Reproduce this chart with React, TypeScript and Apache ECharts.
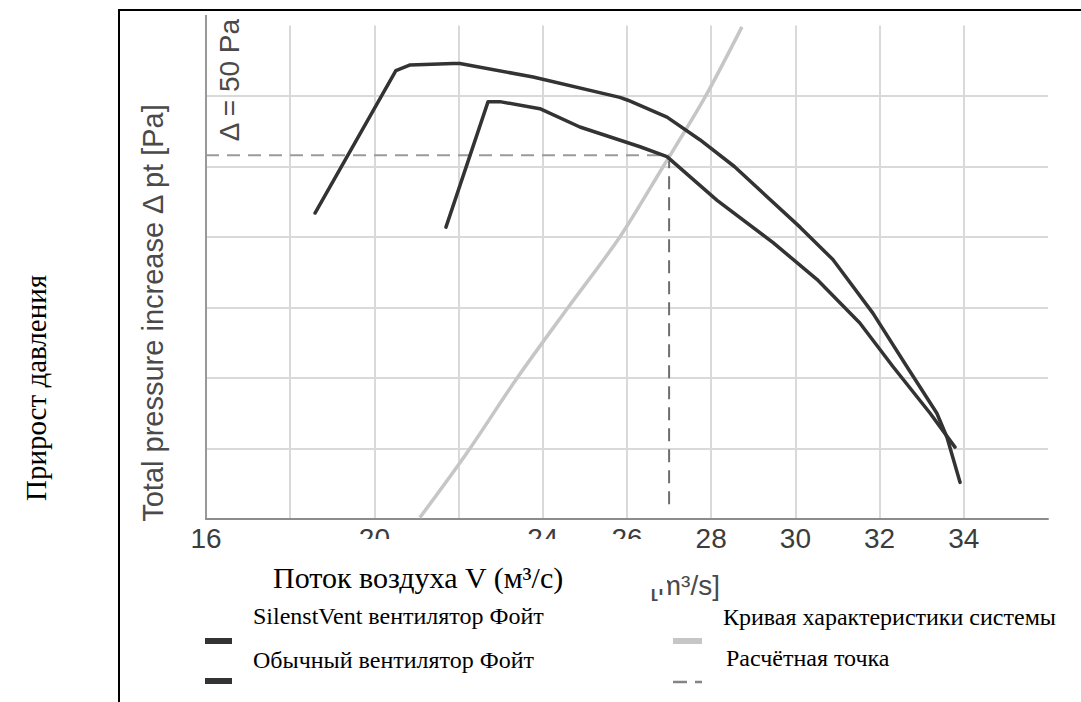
import React, { useEffect, useRef } from "react";
import * as echarts from "echarts";

// ---- data (x: volume flow, m³/s; y: total pressure increase, Pa) ----
const silentVentX = [18.59, 20.51, 20.85, 21.87, 22.03, 23.77, 25.83, 26.02, 26.95, 27.73, 28.55, 30.11, 30.89, 31.84, 32.65, 33.36, 33.6, 33.91];
const silentVentY = [217, 318, 322, 323, 323, 313.5, 299, 297, 285, 269, 250, 207, 184, 146, 108, 75, 58, 26];

const conventionalX = [21.7, 22.7, 22.98, 23.93, 24.88, 26.31, 26.95, 28.14, 29.47, 30.51, 31.53, 32.32, 33.2, 33.79];
const conventionalY = [207, 296, 296, 291, 278, 264, 257, 226, 196, 170, 139, 108, 75, 51];

const systemX = [21.08, 22.2, 23.39, 24.6, 25.83, 26.86, 27.85, 28.73];
const systemY = [1, 47, 100, 150, 200, 250, 299, 349];

const designPointX = 27;
const designPointY = 258;
const designLineBottomY = 8;

const xTickLabels = [16, 20, 24, 26, 28, 30, 32, 34];

const seriesNames = [
  "SilenstVent вентилятор Фойт",
  "Обычный вентилятор Фойт",
  "Кривая характеристики системы",
  "Расчётная точка",
];

const pairs = (xs: number[], ys: number[]) => xs.map((x, i) => [x, ys[i]]);

const SERIF = "'Liberation Serif', 'Times New Roman', serif";
const SANS = "'Liberation Sans', Arial, Helvetica, sans-serif";

export default function App() {
  const ref = useRef<HTMLDivElement>(null);

  useEffect(() => {
    if (!ref.current) return;
    const chart = echarts.init(ref.current, undefined, { renderer: "svg" });
    const dark = "#333333";
    const grey = "#c6c6c6";
    const dashLight = "#9a9a9a";
    const dashDark = "#6e6e6e";

    const option: any = {
      animation: false,
      grid: { left: 206, right: 33, top: 25.5, bottom: 183 },
      xAxis: {
        type: "value",
        min: 16,
        max: 36,
        interval: 2,
        axisLine: { show: true, lineStyle: { color: "#8c8c8c", width: 2 } },
        axisTick: { show: false },
        axisLabel: {
          fontSize: 28,
          color: "#3c3c3c",
          fontFamily: SANS,
          margin: 5,
          formatter: (v: number) => (xTickLabels.includes(v) ? String(v) : ""),
        },
        splitLine: {
          show: true,
          showMinLine: false,
          showMaxLine: false,
          lineStyle: { color: "#d9d9d9", width: 2 },
        },
      },
      yAxis: {
        type: "value",
        min: 0,
        max: 350,
        interval: 50,
        axisLine: { show: true, lineStyle: { color: "#999999", width: 2 } },
        axisTick: { show: false },
        axisLabel: { show: false },
        splitLine: {
          show: true,
          showMinLine: false,
          showMaxLine: false,
          lineStyle: { color: "#d9d9d9", width: 2 },
        },
      },
      series: [
        {
          name: seriesNames[3],
          type: "line",
          data: [[16, designPointY], [designPointX, designPointY]],
          symbol: "none",
          z: 1,
          lineStyle: { color: dashLight, width: 2, type: [13, 8] },
        },
        {
          name: seriesNames[3],
          type: "line",
          data: [[designPointX, designPointY], [designPointX, designLineBottomY]],
          symbol: "none",
          z: 1,
          lineStyle: { color: dashDark, width: 2, type: [13, 8] },
        },
        {
          name: seriesNames[2],
          type: "line",
          data: pairs(systemX, systemY),
          symbol: "none",
          smooth: 0.3,
          z: 2,
          lineStyle: { color: grey, width: 3.5 },
        },
        {
          name: seriesNames[0],
          type: "line",
          data: pairs(silentVentX, silentVentY),
          symbol: "none",
          z: 3,
          lineStyle: { color: dark, width: 3.5, join: "round", cap: "round" },
        },
        {
          name: seriesNames[1],
          type: "line",
          data: pairs(conventionalX, conventionalY),
          symbol: "none",
          z: 3,
          lineStyle: { color: dark, width: 3.5, join: "round", cap: "round" },
        },
      ],
      graphic: [
        // frame lines
        { type: "line", z: 100, shape: { x1: 119, y1: 10, x2: 119, y2: 702 }, style: { stroke: "#000", lineWidth: 2 } },
        { type: "line", z: 100, shape: { x1: 118, y1: 10, x2: 1081, y2: 10 }, style: { stroke: "#000", lineWidth: 2 } },
        // y axis extension above plot
        { type: "line", z: 100, shape: { x1: 206, y1: 15, x2: 206, y2: 26 }, style: { stroke: "#999999", lineWidth: 2 } },
        // y-axis title
        {
          type: "text", z: 100, x: 153, y: 313, rotation: Math.PI / 2,
          style: { text: "Total pressure increase Δ pt [Pa]", fontSize: 29, fontFamily: SANS, fill: "#4a4a4a", align: "center", verticalAlign: "middle" },
        },
        {
          type: "text", z: 100, x: 229, y: 80, rotation: Math.PI / 2,
          style: { text: "Δ = 50 Pa", fontSize: 28, fontFamily: SANS, fill: "#4a4a4a", align: "center", verticalAlign: "middle" },
        },
        // remnants of the original x title unit
        {
          type: "text", z: 100, x: 650, y: 585,
          style: { text: "[m³/s]", fontSize: 28, fontFamily: SANS, fill: "#4a4a4a", align: "left", verticalAlign: "middle" },
        },
        // white overlay box
        { type: "rect", z: 101, shape: { x: 340, y: 539, width: 327, height: 50 }, style: { fill: "#ffffff" } },
        {
          type: "text", z: 102, x: 273, y: 577,
          style: { text: "Поток воздуха V (м³/с)", fontSize: 30, fontFamily: SERIF, fill: "#000", align: "left", verticalAlign: "middle" },
        },
        // rotated Russian y title
        {
          type: "text", z: 102, x: 36, y: 388, rotation: Math.PI / 2,
          style: { text: "Прирост давления", fontSize: 29, fontFamily: SERIF, fill: "#000", align: "center", verticalAlign: "middle" },
        },
        // legend
        { type: "rect", z: 100, shape: { x: 205, y: 638, width: 27, height: 6 }, style: { fill: dark } },
        { type: "rect", z: 100, shape: { x: 205, y: 678, width: 27, height: 6 }, style: { fill: dark } },
        { type: "rect", z: 100, shape: { x: 673, y: 638, width: 29, height: 6 }, style: { fill: grey } },
        { type: "line", z: 100, shape: { x1: 673, y1: 682, x2: 702, y2: 682 }, style: { stroke: "#858585", lineWidth: 2.5, lineDash: [14, 8] } },
        {
          type: "text", z: 102, x: 253, y: 616,
          style: { text: seriesNames[0], fontSize: 24, fontFamily: SERIF, fill: "#000", align: "left", verticalAlign: "middle" },
        },
        {
          type: "text", z: 102, x: 253, y: 660,
          style: { text: seriesNames[1], fontSize: 24, fontFamily: SERIF, fill: "#000", align: "left", verticalAlign: "middle" },
        },
        {
          type: "text", z: 102, x: 723, y: 617,
          style: { text: seriesNames[2], fontSize: 24, fontFamily: SERIF, fill: "#000", align: "left", verticalAlign: "middle" },
        },
        {
          type: "text", z: 102, x: 726, y: 658,
          style: { text: seriesNames[3], fontSize: 24, fontFamily: SERIF, fill: "#000", align: "left", verticalAlign: "middle" },
        },
      ],
    };

    chart.setOption(option);
    return () => chart.dispose();
  }, []);

  return (
    <div
      ref={ref}
      style={{ position: "fixed", left: 0, top: 0, width: 1081, height: 702, background: "#ffffff" }}
    />
  );
}
